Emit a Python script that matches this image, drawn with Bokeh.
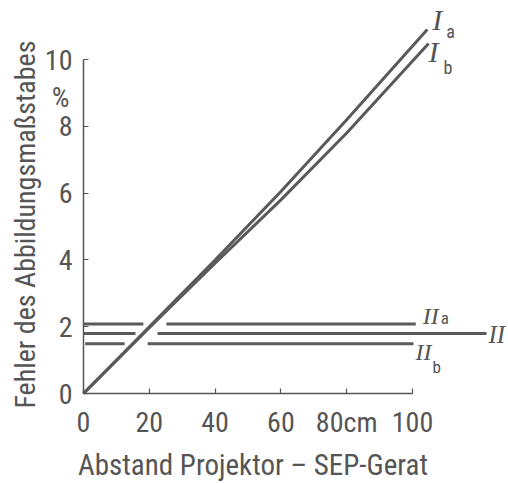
import math
from bokeh.plotting import figure
from bokeh.models import Range1d, Label, FixedTicker
from bokeh.embed import file_html
from bokeh.resources import INLINE

# ---- data ----
x_ticks = [0, 20, 40, 60, 80, 100]
x_tick_labels = {0: "0", 20: "20", 40: "40", 60: "60", 80: "80cm", 100: "100"}
y_ticks = [0, 2, 4, 6, 8, 10]

# curves I_a and I_b (error in % vs distance in cm)
ia_x = [0, 20, 40, 60, 80, 104.5]
ia_y = [0, 2.0, 4.0, 6.05, 8.2, 10.9]
ib_x = [0, 20, 40, 60, 80, 104.9]
ib_y = [0, 1.97, 3.9, 5.8, 7.8, 10.48]

# horizontal curves II_a, II, II_b (interrupted where curve I crosses)
nan = float("nan")
iia_x = [0, 18.2, nan, 25.2, 101]
iia_y = [2.08, 2.08, nan, 2.08, 2.08]
ii_x = [0, 15.8, nan, 22.5, 122.5]
ii_y = [1.80, 1.80, nan, 1.80, 1.80]
iib_x = [0.5, 12.5, nan, 19.5, 100.3]
iib_y = [1.49, 1.49, nan, 1.49, 1.49]

x_title = "Abstand Projektor – SEP-Gerat"
y_title = "Fehler des Abbildungsmaßstabes"

INK = "#555555"
LINE = "#5a5a5a"
SANS = "'Roboto Condensed', Roboto, sans-serif"
SERIF = "'Liberation Serif', 'DejaVu Serif', serif"

p = figure(width=508, height=483, output_backend="svg", toolbar_location=None,
           x_range=Range1d(-25.23, 129.18), y_range=Range1d(-2.695, 11.77),
           min_border_left=0, min_border_right=0, min_border_top=0,
           min_border_bottom=0)
p.outline_line_color = None
p.xgrid.visible = False
p.ygrid.visible = False
p.background_fill_color = "white"
p.border_fill_color = "white"

for ax in (p.xaxis[0], p.yaxis[0]):
    ax.fixed_location = 0
    ax.axis_line_color = INK
    ax.axis_line_width = 1.5
    ax.major_tick_line_color = INK
    ax.major_tick_line_width = 1.2
    ax.major_tick_in = 5
    ax.major_tick_out = 0
    ax.minor_tick_line_color = None
    ax.major_label_text_font = SANS
    ax.major_label_text_font_size = "28px"
    ax.major_label_text_color = INK

p.xaxis.ticker = FixedTicker(ticks=x_ticks)
p.xaxis.bounds = (x_ticks[0], x_ticks[-1])
p.xaxis.major_label_overrides = x_tick_labels
p.xaxis.major_label_standoff = 12
p.yaxis.ticker = FixedTicker(ticks=y_ticks)
p.yaxis.bounds = (y_ticks[0], y_ticks[-1])
p.yaxis.major_label_standoff = 11

# curves
for xs, ys in ((ia_x, ia_y), (ib_x, ib_y), (iia_x, iia_y), (ii_x, ii_y), (iib_x, iib_y)):
    p.line(xs, ys, line_color=LINE, line_width=3)

def lab(text, x, y, dx, dy, font, size, align="left", angle=0.0, style="normal"):
    p.add_layout(Label(x=x, y=y, x_offset=dx, y_offset=dy, text=text,
                       text_font=font, text_font_size=size, text_color=INK,
                       text_align=align, text_baseline="middle", angle=angle,
                       text_font_style=style))

# curve labels
lab("I", ia_x[-1], ia_y[-1], 5, 10, SERIF, "30px", style="italic")
lab("a", ia_x[-1], ia_y[-1], 19, -2, SANS, "18px")
lab("I", ib_x[-1], ib_y[-1], 0, -8, SERIF, "30px", style="italic")
lab("b", ib_x[-1], ib_y[-1], 15, -24, SANS, "18px")
lab("II", iia_x[-1], iia_y[-1], 7, 8, SERIF, "24px", style="italic")
lab("a", iia_x[-1], iia_y[-1], 25, 6, SANS, "17px")
lab("II", ii_x[-1], ii_y[-1], 2, -1, SERIF, "25px", style="italic")
lab("II", iib_x[-1], iib_y[-1], 2, -8, SERIF, "24px", style="italic")
lab("b", iib_x[-1], iib_y[-1], 19, -23, SANS, "17px")

# unit label
lab("%", 0, y_ticks[-1], -23, -38, SANS, "28px", align="center")

# axis titles
lab(x_title, (x_ticks[0] + x_ticks[-1]) / 2, 0, 5, -71, SANS, "29px", align="center")
lab(y_title, 0, (y_ticks[0] + y_ticks[-1]) / 2, -58, 2, SANS, "28px", align="center",
    angle=math.pi / 2)

open("out.html", "w").write(file_html(p, INLINE))
